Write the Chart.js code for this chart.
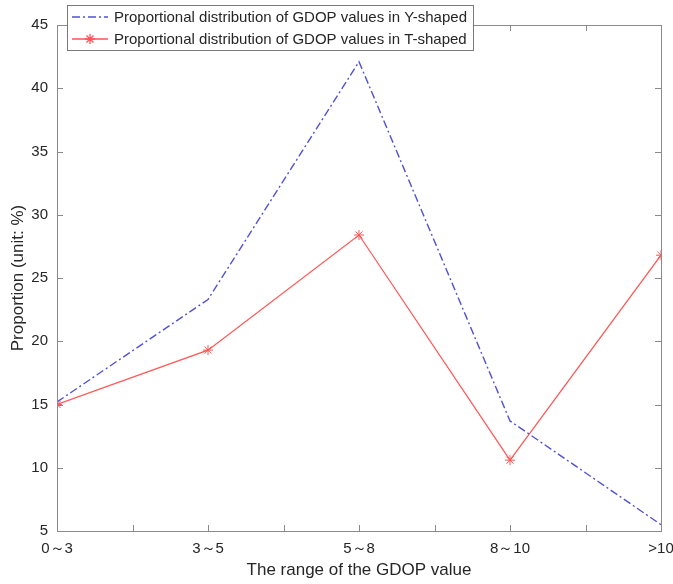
<!DOCTYPE html>
<html>
<head>
<meta charset="utf-8">
<script src="https://cdn.jsdelivr.net/npm/chart.js@4.4.1/dist/chart.umd.min.js"></script>
<style>
  html, body { margin: 0; padding: 0; background: #fff; }
  #wrap { width: 673px; height: 584px; position: relative; }
</style>
</head>
<body>
<div id="wrap"><canvas id="gdopChart"></canvas></div>
<script>
const categories = ['0\uFF5E3', '3\uFF5E5', '5\uFF5E8', '8\uFF5E10', '>10'];
const yShaped = [15.2, 23.3, 42.1, 13.7, 5.5];
const tShaped = [15.0, 19.3, 28.4, 10.6, 26.8];
const yTicks = [5, 10, 15, 20, 25, 30, 35, 40, 45];
const seriesNames = [
  'Proportional distribution of GDOP values in Y-shaped',
  'Proportional distribution of GDOP values in T-shaped'
];

const axisColor = '#8a8a8a';
const textColor = '#262626';
const font = 'Liberation Sans, Arial, sans-serif';

// MATLAB style box + inward ticks + legend box
const matlabFrame = {
  id: 'matlabFrame',
  afterDatasetsDraw(chart) {
    const { ctx, chartArea: a, scales } = chart;
    ctx.save();
    ctx.strokeStyle = axisColor;
    ctx.lineWidth = 1;
    ctx.strokeRect(a.left + 0.5, a.top + 0.5, a.right - a.left, a.bottom - a.top);
    // x ticks every half step
    for (let v = 0; v <= categories.length - 1; v += 0.5) {
      const x = Math.round(scales.x.getPixelForValue(v)) + 0.5;
      ctx.beginPath();
      ctx.moveTo(x, a.bottom); ctx.lineTo(x, a.bottom - 6);
      ctx.moveTo(x, a.top); ctx.lineTo(x, a.top + 6);
      ctx.stroke();
    }
    yTicks.forEach(v => {
      const y = Math.round(scales.y.getPixelForValue(v)) + 0.5;
      ctx.beginPath();
      ctx.moveTo(a.left, y); ctx.lineTo(a.left + 6, y);
      ctx.moveTo(a.right, y); ctx.lineTo(a.right - 6, y);
      ctx.stroke();
    });

    // legend
    const lx = 67, ly = 5, lw = 406, lh = 45;
    ctx.fillStyle = '#fff';
    ctx.fillRect(lx, ly, lw, lh);
    ctx.strokeStyle = '#7a7a7a';
    ctx.strokeRect(lx + 0.5, ly + 0.5, lw, lh);
    ctx.font = '15px ' + font;
    ctx.textBaseline = 'middle';
    chart.data.datasets.forEach((ds, i) => {
      const yy = ly + 12 + i * 22;
      ctx.strokeStyle = ds.borderColor;
      ctx.lineWidth = 1.3;
      ctx.setLineDash(ds.borderDash || []);
      ctx.beginPath();
      ctx.moveTo(lx + 5, yy); ctx.lineTo(lx + 41, yy);
      ctx.stroke();
      ctx.setLineDash([]);
      if (ds.pointRadius > 0) {
        Chart.helpers.drawPoint(ctx, {
          pointStyle: 'star', radius: ds.pointRadius, borderWidth: 1
        }, lx + 23, yy);
      }
      ctx.fillStyle = textColor;
      ctx.fillText(ds.label, lx + 47, yy + 1);
    });
    ctx.restore();
  }
};

new Chart(document.getElementById('gdopChart'), {
  type: 'line',
  data: {
    datasets: [
      {
        label: seriesNames[0],
        data: yShaped.map((v, i) => ({ x: i, y: v })),
        borderColor: 'rgb(82,82,214)',
        borderWidth: 1.4,
        borderDash: [8, 3, 2, 3],
        pointRadius: 0,
        fill: false,
        tension: 0
      },
      {
        label: seriesNames[1],
        data: tShaped.map((v, i) => ({ x: i, y: v })),
        borderColor: 'rgb(255,85,85)',
        backgroundColor: 'rgb(255,85,85)',
        borderWidth: 1.2,
        pointStyle: 'star',
        pointRadius: 5,
        pointBorderWidth: 1,
        fill: false,
        tension: 0
      }
    ]
  },
  options: {
    responsive: true,
    maintainAspectRatio: false,
    animation: false,
    layout: { padding: { top: 25, right: 12, left: 0, bottom: 0 } },
    plugins: {
      legend: { display: false },
      tooltip: { enabled: false }
    },
    scales: {
      x: {
        type: 'linear',
        min: 0,
        max: categories.length - 1,
        afterFit(s) { s.height = 53; s.paddingRight = 0; s.paddingLeft = 0; },
        grid: { display: false, drawTicks: false },
        border: { display: false },
        ticks: {
          stepSize: 1,
          padding: 9,
          color: textColor,
          font: { family: font, size: 15 },
          maxRotation: 0,
          callback: v => categories[v] || ''
        },
        title: {
          display: true,
          text: 'The range of the GDOP value',
          color: textColor,
          font: { family: font, size: 17 },
          padding: { top: 4, bottom: 3 }
        }
      },
      y: {
        min: 5,
        max: 45,
        afterFit(s) { s.width = 57; },
        afterBuildTicks(s) { s.ticks = yTicks.map(v => ({ value: v })); },
        grid: { display: false, drawTicks: false },
        border: { display: false },
        ticks: {
          padding: 9,
          color: textColor,
          font: { family: font, size: 15 }
        },
        title: {
          display: true,
          text: 'Proportion (unit: %)',
          color: textColor,
          font: { family: font, size: 17 },
          padding: { top: 8, bottom: 4 }
        }
      }
    }
  },
  plugins: [matlabFrame]
});
</script>
</body>
</html>
